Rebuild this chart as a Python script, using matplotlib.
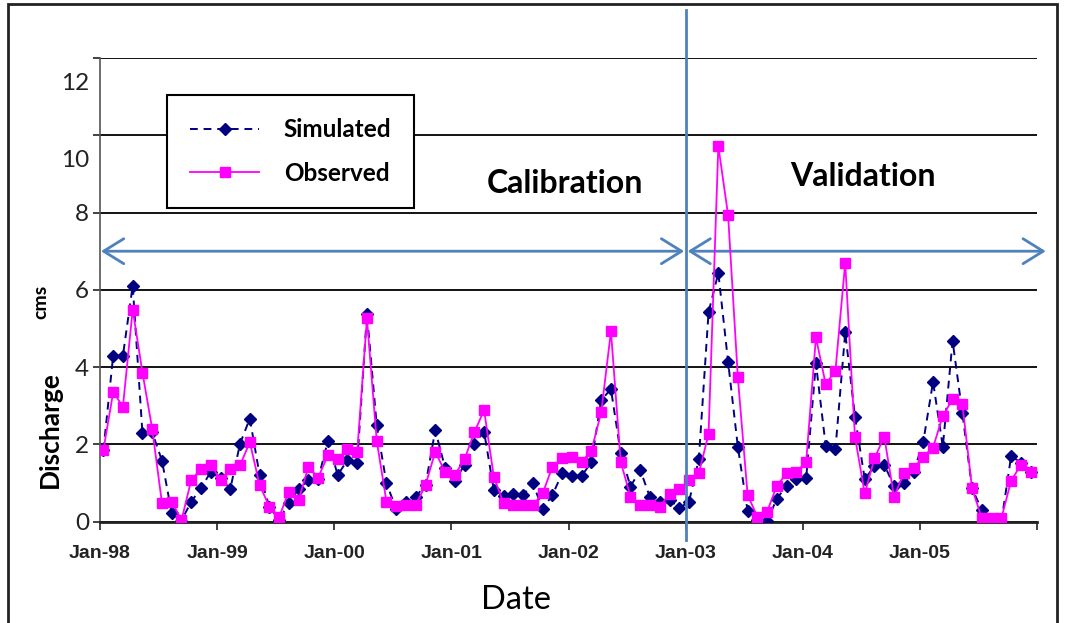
import matplotlib
matplotlib.use('Agg')
import matplotlib.pyplot as plt
from matplotlib.lines import Line2D
from matplotlib.patches import Rectangle
from matplotlib.transforms import ScaledTranslation
import numpy as np

# monthly discharge (cms), Jan-98 .. Dec-05
simulated = [1.85, 4.30, 4.30, 6.11, 2.29, 2.31, 1.58, 0.22, 0.03, 0.52, 0.87, 1.29,
             1.12, 0.85, 2.02, 2.67, 1.21, 0.39, 0.05, 0.49, 0.85, 1.07, 1.10, 2.10,
             1.21, 1.59, 1.51, 5.38, 2.50, 0.99, 0.33, 0.50, 0.65, 0.95, 2.37, 1.40,
             1.06, 1.47, 2.01, 2.33, 0.82, 0.67, 0.72, 0.69, 0.99, 0.33, 0.69, 1.25,
             1.19, 1.19, 1.54, 3.15, 3.43, 1.77, 0.91, 1.34, 0.63, 0.50, 0.57, 0.35,
             0.52, 1.61, 5.42, 6.44, 4.14, 1.94, 0.28, 0.04, 0.01, 0.60, 0.93, 1.10,
             1.12, 4.10, 1.97, 1.88, 4.90, 2.72, 1.10, 1.44, 1.47, 0.93, 1.00, 1.28,
             2.07, 3.62, 1.94, 4.68, 2.82, 0.86, 0.30, 0.00, 0.00, 1.70, 1.53, 1.29]
observed = [1.86, 3.35, 2.98, 5.49, 3.86, 2.40, 0.48, 0.52, 0.04, 1.08, 1.36, 1.47,
            1.08, 1.37, 1.46, 2.06, 0.95, 0.39, 0.12, 0.78, 0.56, 1.42, 1.14, 1.72,
            1.63, 1.88, 1.80, 5.26, 2.10, 0.52, 0.41, 0.43, 0.43, 0.95, 1.81, 1.29,
            1.21, 1.62, 2.31, 2.89, 1.16, 0.48, 0.43, 0.43, 0.43, 0.73, 1.42, 1.64,
            1.68, 1.55, 1.84, 2.83, 4.93, 1.55, 0.65, 0.43, 0.43, 0.39, 0.72, 0.84,
            1.08, 1.25, 2.27, 9.72, 7.94, 3.74, 0.69, 0.13, 0.26, 0.93, 1.25, 1.28,
            1.55, 4.77, 3.56, 3.91, 6.70, 2.20, 0.73, 1.64, 2.20, 0.65, 1.25, 1.38,
            1.68, 1.92, 2.74, 3.17, 3.05, 0.86, 0.09, 0.09, 0.09, 1.06, 1.47, 1.29]
year_labels = ['Jan-98', 'Jan-99', 'Jan-00', 'Jan-01', 'Jan-02', 'Jan-03',
               'Jan-04', 'Jan-05', '']
y_ticks = [0, 2, 4, 6, 8, 10, 12]
split_month = 60  # Jan-03, start of validation

months = np.arange(len(observed)) + 0.35

W, H = 1080, 623
fig = plt.figure(figsize=(W / 100, H / 100), dpi=100)
ax = fig.add_axes([100 / W, 1 - 521.7 / H, 937 / W, 463.7 / H])

blue = '#4F81BD'
calibri = ['Lato', 'DejaVu Sans']
arial = ['Liberation Sans', 'DejaVu Sans']

ax.plot(months, simulated, color='#000080', ls=(0, (4, 3)), lw=1.4,
        marker='D', ms=6.5, zorder=3)
ax.plot(months, observed, color='#FF00FF', ls='-', lw=1.3,
        marker='s', ms=6.5, zorder=4)

ax.set_xlim(0, 96)
ax.set_ylim(0, 12)
ax.set_xticks(np.arange(0, 97, 12))
ax.set_xticklabels(year_labels, fontfamily=arial, fontweight='bold', fontsize=14)
ax.set_yticks(y_ticks)
ax.set_yticklabels([str(v) for v in y_ticks], fontfamily=calibri, fontsize=17.5)
ax.tick_params(axis='x', direction='out', length=6, width=1.2, pad=11, colors='#222')
ax.tick_params(axis='y', direction='out', length=5, width=1.2, pad=3, colors='#222')
ax.yaxis.grid(True, color='black', lw=1.3)
ax.set_axisbelow(True)
for s in ('top', 'right'):
    ax.spines[s].set_visible(False)
ax.spines['left'].set_color('#555')
ax.spines['left'].set_linewidth(1.2)
ax.spines['bottom'].set_color('#222')
ax.spines['bottom'].set_linewidth(2)

# the 10 and 12 labels sit lower than their gridlines in the original
for lab in ax.get_yticklabels():
    if lab.get_text() in ('10', '12'):
        lab.set_transform(lab.get_transform() +
                          ScaledTranslation(0, -0.23, fig.dpi_scale_trans))

# calibration / validation split
ax.axvline(split_month, ymin=-0.04, ymax=1.103, color=blue, lw=2, clip_on=False, zorder=5)
arrow = dict(arrowstyle='<->,head_length=1.45,head_width=0.9', color=blue, lw=2,
             shrinkA=0, shrinkB=0, mutation_scale=10)
ax.annotate('', xy=(0.1, 7), xytext=(split_month - 0.15, 7), arrowprops=arrow,
            annotation_clip=False)
ax.annotate('', xy=(split_month + 0.2, 7), xytext=(96.9, 7), arrowprops=arrow,
            annotation_clip=False)
ax.text(0.4963, 0.7304, 'Calibration', transform=ax.transAxes, ha='center',
        va='center', fontfamily=calibri, fontweight='bold', fontsize=23)
ax.text(0.8143, 0.7455, 'Validation', transform=ax.transAxes, ha='center',
        va='center', fontfamily=calibri, fontweight='bold', fontsize=23)

handles = [Line2D([], [], color='#000080', ls=(0, (4, 3)), lw=1.4, marker='D', ms=6.5),
           Line2D([], [], color='#FF00FF', lw=1.3, marker='s', ms=6.5)]
leg = ax.legend(handles, ['Simulated', 'Observed'], loc='upper left',
                bbox_to_anchor=(0.0715, 0.92), frameon=True, fancybox=False,
                framealpha=1, edgecolor='black', borderaxespad=0,
                handlelength=2.85, handletextpad=1.0, labelspacing=0.85,
                borderpad=0.95, prop=dict(family=calibri, weight='bold', size=17.5))
leg.get_frame().set_linewidth(1.5)
leg.set_zorder(6)

fig.text(50 / W, 1 - 430 / H, 'Discharge', rotation=90, ha='center', va='center',
         fontfamily=calibri, fontweight='bold', fontsize=19)
fig.text(41 / W, 1 - 302 / H, 'cms', rotation=90, ha='center', va='center',
         fontfamily=calibri, fontweight='bold', fontsize=14)
fig.text(516 / W, 1 - 600 / H, 'Date', ha='center', va='center',
         fontfamily=calibri, fontsize=23.5)

fig.patches.append(Rectangle((8 / W, -0.1), (1057 - 8) / W, 1 - 4 / H + 0.1,
                             transform=fig.transFigure, fill=False, lw=2, ec='#222'))

fig.savefig('out.png', dpi=100)
